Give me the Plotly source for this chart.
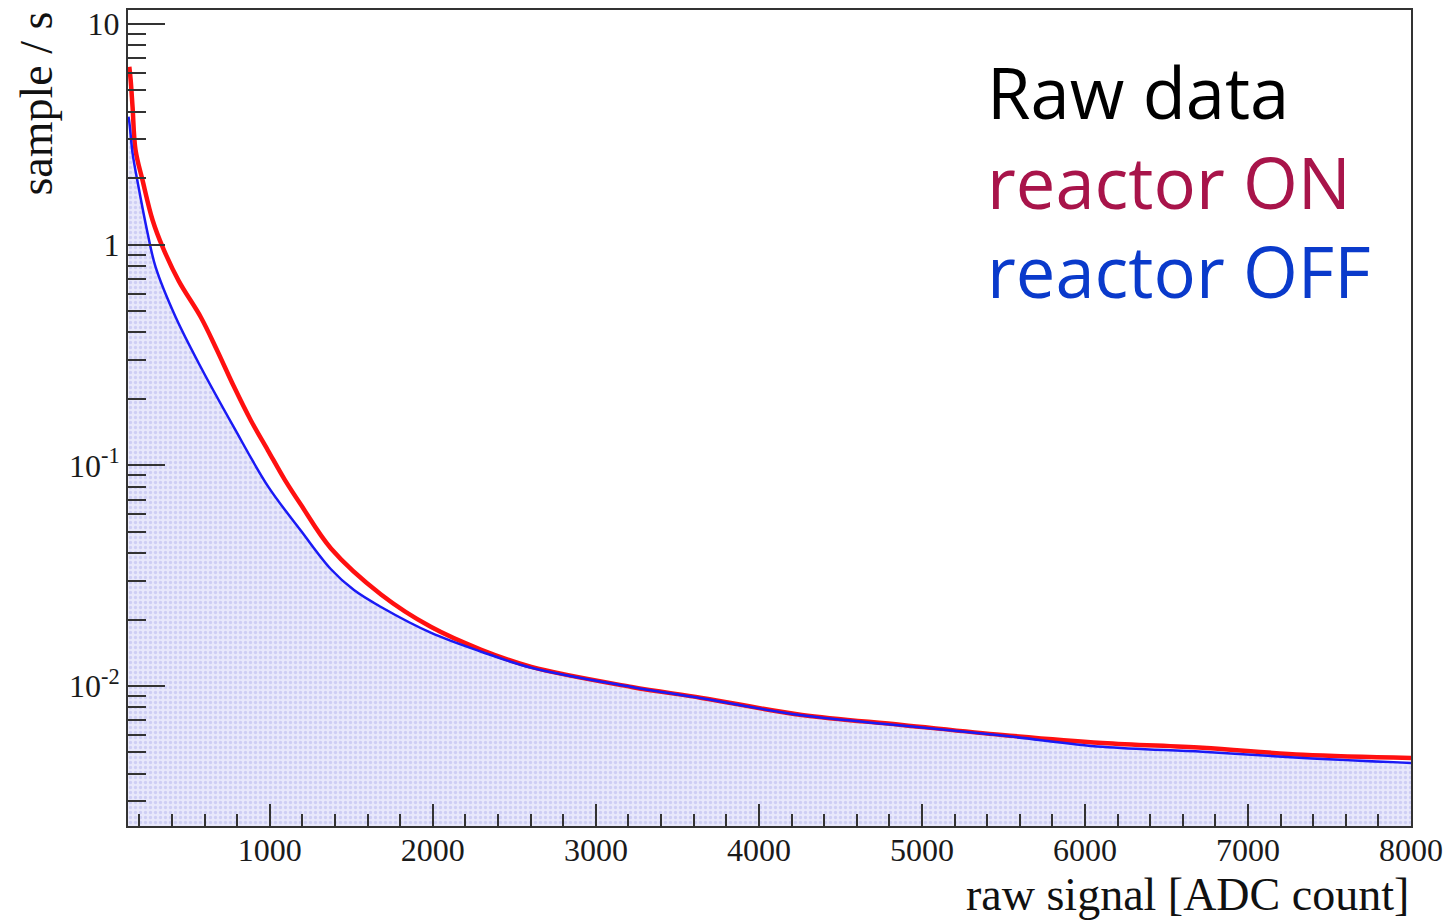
import numpy as np
import plotly.graph_objects as go

# Rate spectra (sample / s) versus raw signal amplitude (ADC count)
adc_on = [138, 146, 158, 176, 219, 281, 342, 441, 576, 674, 779, 883, 988,
          1092, 1191, 1375, 1682, 1990, 2297, 2604, 3219, 3649, 4264, 4878,
          5493, 6108, 6722, 7337, 8000]
rate_on = [6.4, 5.6, 4.21, 2.69, 1.96, 1.29, 0.977, 0.685, 0.47, 0.335,
           0.228, 0.160, 0.117, 0.0859, 0.0662, 0.0420, 0.0260, 0.0185,
           0.0146, 0.0122, 0.0099, 0.00883, 0.00739, 0.00666, 0.0060,
           0.00552, 0.00525, 0.00488, 0.00472]

adc_off = [133, 140, 158, 195, 250, 299, 422, 576, 779, 988, 1191, 1375,
           1516, 1682, 1990, 2297, 2604, 3219, 3649, 4264, 4878, 5493, 6108,
           6722, 7337, 8000]
rate_off = [3.8, 3.5, 2.60, 1.82, 1.13, 0.793, 0.470, 0.279, 0.149,
            0.0805, 0.0505, 0.0338, 0.0272, 0.0228, 0.0174, 0.0143, 0.0121,
            0.0099, 0.00880, 0.00736, 0.00662, 0.00596, 0.00530, 0.00503,
            0.00472, 0.00448]

x_major = [1000, 2000, 3000, 4000, 5000, 6000, 7000, 8000]
x_major_text = ["1000", "2000", "3000", "4000", "5000", "6000", "7000", "8000"]
y_major = [0.01, 0.1, 1, 10]
y_major_text = ["10<sup>-2</sup>", "10<sup>-1</sup>", "1", "10"]

legend_lines = ["Raw data", "reactor ON", "reactor OFF"]
legend_colors = ["#000000", "#A8144A", "#0A3ACB"]

X_MIN, X_MAX = 130, 8000
Y_MIN, Y_MAX = 0.00232, 11.57

x_minor = [v for v in range(200, 8000, 200) if v % 1000]
y_minor = [k * 10.0 ** e for e in range(-3, 2) for k in range(2, 10)
           if Y_MIN < k * 10.0 ** e < Y_MAX]

fig = go.Figure()

# baseline below the visible range, used as the lower edge of the OFF fill
fig.add_trace(go.Scatter(
    x=[X_MIN, X_MAX], y=[1e-3, 1e-3], mode="lines",
    line=dict(width=0), showlegend=False, hoverinfo="skip"))

# reactor OFF: shaded area under the curve
fig.add_trace(go.Scatter(
    x=adc_off, y=rate_off, mode="lines", fill="tonexty",
    line=dict(width=0, shape="spline", smoothing=1.0),
    fillcolor="rgba(228,228,250,1)",
    fillpattern=dict(shape=".", bgcolor="rgba(232,232,251,1)",
                     fgcolor="rgba(180,180,238,1)", size=5, solidity=0.35),
    showlegend=False, hoverinfo="skip"))

# reactor ON
fig.add_trace(go.Scatter(
    x=adc_on, y=rate_on, mode="lines",
    line=dict(color="#FF1010", width=4.5, shape="spline", smoothing=1.0),
    name="reactor ON", showlegend=False))

# reactor OFF
fig.add_trace(go.Scatter(
    x=adc_off, y=rate_off, mode="lines",
    line=dict(color="#1a1aF5", width=2.5, shape="spline", smoothing=1.0),
    name="reactor OFF", showlegend=False))

frame = "#333333"
serif = "Liberation Serif, Times New Roman, serif"

fig.update_xaxes(
    range=[X_MIN, X_MAX], showgrid=False, zeroline=False, automargin=False,
    showline=True, linecolor=frame, linewidth=2, mirror=True,
    ticks="inside", ticklen=22, tickwidth=2, tickcolor=frame,
    ticklabelstandoff=-5,
    tickmode="array", tickvals=x_major, ticktext=x_major_text,
    tickfont=dict(family=serif, size=32, color="#1a1a1a"),
    minor=dict(ticks="inside", ticklen=12, tickwidth=2, tickcolor=frame,
               tickvals=x_minor, showgrid=False),
)

fig.update_yaxes(
    type="log", range=[np.log10(Y_MIN), np.log10(Y_MAX)],
    showgrid=False, zeroline=False, automargin=False,
    showline=True, linecolor=frame, linewidth=2, mirror=True,
    ticks="inside", ticklen=37, tickwidth=2, tickcolor=frame,
    tickmode="array", tickvals=y_major, ticktext=y_major_text,
    tickfont=dict(family=serif, size=32, color="#1a1a1a"),
    minor=dict(ticks="inside", ticklen=18, tickwidth=2, tickcolor=frame,
               tickvals=y_minor, showgrid=False),
)

annotations = [
    dict(text="raw signal [ADC count]", xref="paper", yref="paper",
         x=1.0, y=-0.0835, xanchor="right", yanchor="middle", showarrow=False,
         font=dict(family=serif, size=46, color="#111111")),
    dict(text="sample / s", xref="paper", yref="paper",
         x=-0.072, y=1.0, xanchor="center", yanchor="top", showarrow=False,
         textangle=-90,
         font=dict(family=serif, size=46, color="#111111")),
]

# Text block in the upper right
plot_left, plot_width = 128, 1283
plot_top, plot_height = 10, 816
for text, color, yc in zip(legend_lines, legend_colors, [92, 182, 271]):
    annotations.append(dict(
        text=text, xref="paper", yref="paper",
        x=(985 - plot_left) / plot_width,
        y=1 - (yc - plot_top) / plot_height,
        xanchor="left", yanchor="middle", showarrow=False,
        font=dict(family="Open Sans, sans-serif", size=70.5, color=color)))

fig.update_layout(
    width=1446, height=920,
    margin=dict(l=128, r=35, t=10, b=94),
    paper_bgcolor="white", plot_bgcolor="white",
    annotations=annotations,
)

fig.write_html("out.html")
